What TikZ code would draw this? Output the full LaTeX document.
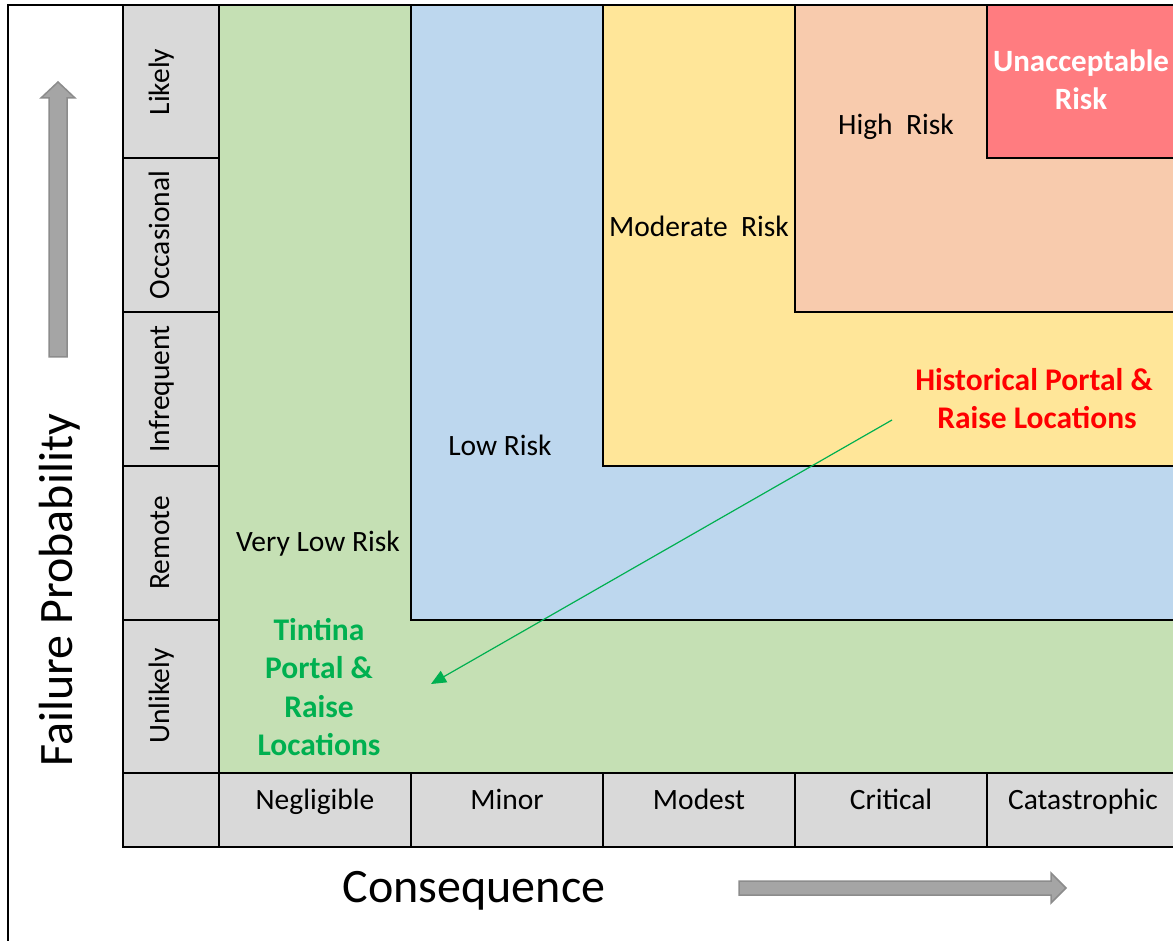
\documentclass[tikz,border=0pt]{standalone}
\usepackage{fontspec}
\setmainfont{Carlito}
\usetikzlibrary{arrows.meta}
\definecolor{zgreen}{HTML}{C5E0B4}
\definecolor{zblue}{HTML}{BDD7EE}
\definecolor{zyellow}{HTML}{FFE699}
\definecolor{zorange}{HTML}{F8CBAD}
\definecolor{zred}{HTML}{FF7C80}
\definecolor{hgray}{HTML}{D9D9D9}
\definecolor{agray}{HTML}{A5A5A5}
\definecolor{aedge}{HTML}{8C8C8C}
\definecolor{tgreen}{HTML}{00B050}
\definecolor{tred}{HTML}{FF0000}
\begin{document}
\begin{tikzpicture}[x=1pt,y=-1pt,
  zone/.style={draw=black, line width=2.5pt},
  hdr/.style={draw=black, line width=2.5pt, fill=hgray},
  lbl/.style={font=\fontsize{29.5}{35}\selectfont, inner sep=0pt, anchor=base},
  vlbl/.style={lbl, rotate=90},
  blbl/.style={font=\bfseries\fontsize{31.5}{37}\selectfont, inner sep=0pt, anchor=base},
  biglbl/.style={font=\fontsize{48}{57}\selectfont, inner sep=0pt, anchor=base},
  bigarrow/.style={fill=agray, draw=aedge, line width=1.5pt, line join=miter},
  pointer/.style={draw=tgreen, line width=1.2pt, -{Triangle[length=15pt,width=13pt]}}
]
\useasboundingbox (0,0) rectangle (1173,941);
\begin{scope}
\clip (0,0) rectangle (1173,941);
% risk zones
\draw[zone, fill=zgreen]  (219,5) rectangle (1190,773);
\draw[zone, fill=zblue]   (411,5) rectangle (1190,620);
\draw[zone, fill=zyellow] (603,5) rectangle (1190,466);
\draw[zone, fill=zorange] (795,5) rectangle (1190,312);
\draw[zone, fill=zred]    (987,5) rectangle (1190,158);
% probability header cells
\draw[hdr] (123,5)   rectangle (219,158);
\draw[hdr] (123,158) rectangle (219,312);
\draw[hdr] (123,312) rectangle (219,466);
\draw[hdr] (123,466) rectangle (219,620);
\draw[hdr] (123,620) rectangle (219,773);
% consequence header cells
\draw[hdr] (123,773) rectangle (219,847);
\draw[hdr] (219,773) rectangle (411,847);
\draw[hdr] (411,773) rectangle (603,847);
\draw[hdr] (603,773) rectangle (795,847);
\draw[hdr] (795,773) rectangle (987,847);
\draw[hdr] (987,773) rectangle (1190,847);
% outer frame
\draw[line width=2pt] (8,941) -- (8,5) -- (1190,5);
\end{scope}
% probability labels
\node[vlbl] (pLikely) at (169,82) {Likely};
\node[vlbl] (pOcc) at (169,235) {Occasional};
\node[vlbl] (pInf) at (169,389) {Infrequent};
\node[vlbl] (pRem) at (169,543) {Remote};
\node[vlbl] (pUnl) at (169,696) {Unlikely};
% consequence labels
\node[lbl] (cNeg) at (315,809) {Negligible};
\node[lbl] (cMin) at (507,809) {Minor};
\node[lbl] (cMod) at (699,809) {Modest};
\node[lbl] (cCri) at (891,809) {Critical};
\node[lbl] (cCat) at (1083,809) {Catastrophic};
% zone labels
\node[lbl] (zVL) at (318,551) {Very Low Risk};
\node[lbl] (zL) at (500,455) {Low Risk};
\node[lbl] (zM) at (699,237) {Moderate\ \ Risk};
\node[lbl] (zH) at (896,135) {High\ \ Risk};
\node[blbl, text=white, font=\bfseries\fontsize{31}{37}\selectfont] (zU1) at (1081,72) {Unacceptable};
\node[blbl, text=white, font=\bfseries\fontsize{31}{37}\selectfont] (zU2) at (1081,110) {Risk};
% annotations
\node[blbl, text=tred] (hist1) at (1034,390) {Historical Portal \&};
\node[blbl, text=tred] (hist2) at (1037,428) {Raise Locations};
\node[blbl, text=tgreen] (tin1) at (319,640) {Tintina};
\node[blbl, text=tgreen] (tin2) at (319,678) {Portal \&};
\node[blbl, text=tgreen] (tin3) at (319,717) {Raise};
\node[blbl, text=tgreen] (tin4) at (319,755) {Locations};
\coordinate (pstart) at (892,420);
\coordinate (pend) at (431,684);
\draw[pointer] (pstart) -- (pend);
% axis titles
\node[biglbl, rotate=90] (yTitle) at (72,590) {Failure Probability};
\node[biglbl] (xTitle) at (474,902) {Consequence};
% big gray arrows
\draw[bigarrow] (49,357) -- (49,98) -- (41,98) -- (58,82) -- (75,98) -- (67,98) -- (67,357) -- cycle;
\draw[bigarrow] (739,881) -- (1051,881) -- (1051,873) -- (1066,888) -- (1051,903) -- (1051,895) -- (739,895) -- cycle;
\end{tikzpicture}
\end{document}
